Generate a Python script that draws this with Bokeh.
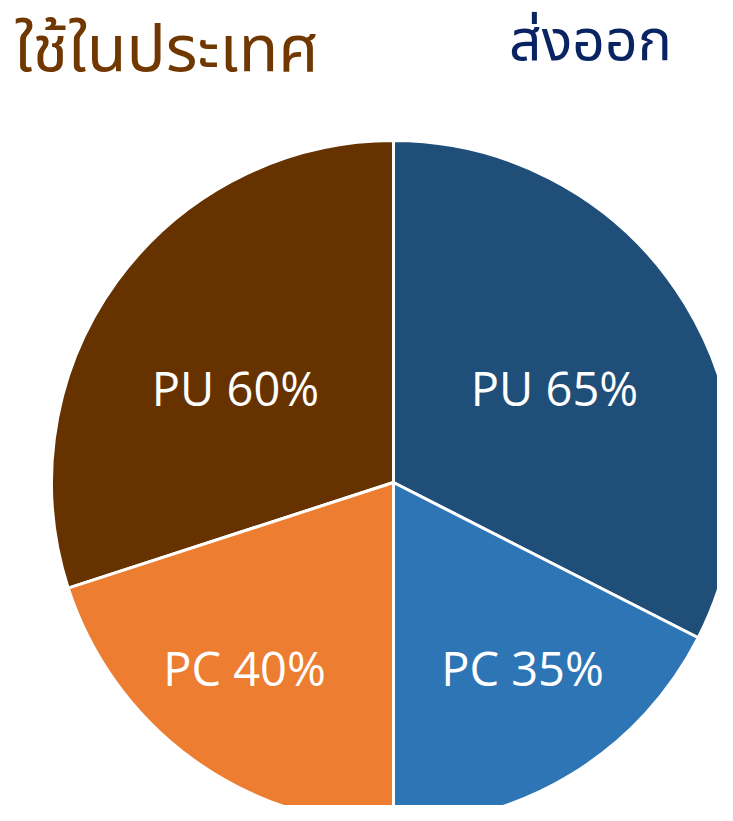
import math
from bokeh.plotting import figure
from bokeh.models import Range1d, ColumnDataSource
from bokeh.core.properties import value
from bokeh.embed import file_html
from bokeh.resources import INLINE

# ---- data ----
groups = ["ใช้ในประเทศ", "ส่งออก"]
domestic_labels = ["PU", "PC"]
domestic_values = [60, 40]
export_labels = ["PU", "PC"]
export_values = [65, 35]

domestic_colors = ["#663300", "#ED7D31"]
export_colors = ["#1F4E79", "#2E75B6"]
title_colors = ["#703800", "#0A2463"]

W, H = 717, 805
p = figure(width=W, height=H, output_backend="svg", toolbar_location=None,
           x_range=Range1d(0, W), y_range=Range1d(-H, 0),
           min_border=0, outline_line_color=None)
p.axis.visible = False
p.grid.visible = False
p.background_fill_color = "white"

cx, cy, r = 393, -482, 342
half = math.pi  # each group uses half the pie

starts, ends, colors, texts = [], [], [], []
# Left half: anticlockwise from top
a = math.pi / 2
tot = sum(domestic_values)
for lab, v, c in zip(domestic_labels, domestic_values, domestic_colors):
    span = half * v / tot
    starts.append(a); ends.append(a + span); colors.append(c)
    texts.append(f"{lab} {v}%")
    a += span
# Right half: clockwise from top
a = math.pi / 2
tot = sum(export_values)
for lab, v, c in zip(export_labels, export_values, export_colors):
    span = half * v / tot
    starts.append(a - span); ends.append(a); colors.append(c)
    texts.append(f"{lab} {v}%")
    a -= span

src = ColumnDataSource(dict(start=starts, end=ends, color=colors))
p.wedge(x=cx, y=cy, radius=r, start_angle="start", end_angle="end",
        fill_color="color", line_color="white", line_width=3, source=src)

# label positions
lx = [235, 244, 554, 522]
ly = [-387, -667, -387, -667]
p.text(x=lx, y=ly, text=texts, text_color="white", text_align="center",
       text_baseline="middle", text_font=value("Open Sans"), text_font_size="47px")

thai_font = value("Tahoma, 'Noto Sans Thai', Loma, 'Noto Sans', sans-serif")
p.text(x=[14], y=[-50], text=[groups[0]], text_color=title_colors[0],
       text_align="left", text_baseline="alphabetic",
       text_font=thai_font, text_font_size="65px")
p.text(x=[590], y=[-42], text=[groups[1]], text_color=title_colors[1],
       text_align="center", text_baseline="alphabetic",
       text_font=thai_font, text_font_size="57px")

open("out.html", "w").write(file_html(p, INLINE))
